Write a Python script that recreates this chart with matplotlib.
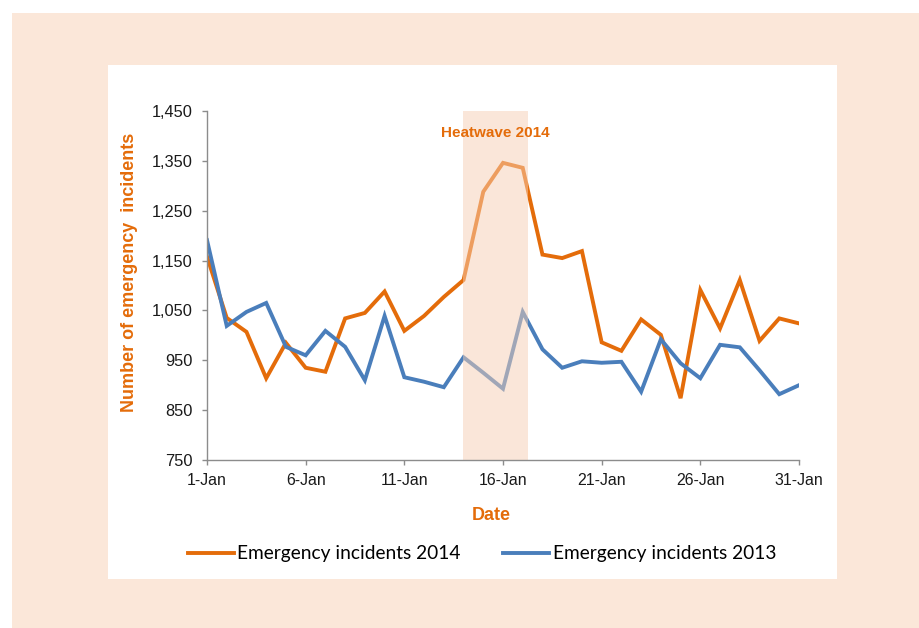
import matplotlib
matplotlib.use("Agg")
import matplotlib.pyplot as plt
from matplotlib.patches import Rectangle

# Daily emergency incidents, January
days = list(range(1, 32))
incidents_2014 = [1158, 1035, 1007, 914, 985, 935, 927, 1034, 1045, 1088,
                  1009, 1039, 1077, 1111, 1288, 1346, 1336, 1162, 1155, 1169,
                  986, 969, 1032, 1001, 874, 1091, 1014, 1111, 989, 1034, 1024]
incidents_2013 = [1191, 1019, 1047, 1065, 977, 960, 1009, 977, 910, 1039,
                  916, 907, 896, 956, 925, 893, 1047, 972, 935, 948,
                  945, 947, 887, 992, 944, 914, 981, 976, 930, 882, 900]
tick_days = [1, 6, 11, 16, 21, 26, 31]
tick_labels = ["1-Jan", "6-Jan", "11-Jan", "16-Jan", "21-Jan", "26-Jan", "31-Jan"]
y_ticks = [750, 850, 950, 1050, 1150, 1250, 1350, 1450]
heatwave_start, heatwave_end = 14, 17.25

ORANGE = "#E46C0A"
BLUE = "#4A7EBB"
PEACH = "#FBE7D9"
BAND = (247/255, 207/255, 180/255)

W, H = 919, 628
fig = plt.figure(figsize=(W/100, H/100), dpi=100)
fig.patch.set_facecolor("white")

# Framed background: peach border with white chart panel
fig.patches.append(Rectangle((12/W, 0), 1 - 12/W, 1 - 13/H, transform=fig.transFigure,
                             facecolor=PEACH, edgecolor="none", zorder=-10))
fig.patches.append(Rectangle((108/W, 1 - 579/H), (837-108)/W, (579-65)/H,
                             transform=fig.transFigure, facecolor="white",
                             edgecolor="none", zorder=-9))

ax = fig.add_axes([207/W, 1 - 460/H, (799-207)/W, (460-111)/H])
ax.set_facecolor("none")

l14, = ax.plot(days, incidents_2014, color=ORANGE, lw=2.8, solid_joinstyle="miter",
               label="Emergency incidents 2014", zorder=3)
l13, = ax.plot(days, incidents_2013, color=BLUE, lw=2.8, solid_joinstyle="miter",
               label="Emergency incidents 2013", zorder=3)

# Translucent heatwave band laid over the lines
ax.axvspan(heatwave_start - 0.03, heatwave_end, color=BAND, alpha=0.5, lw=0, zorder=4)
ax.text(15.6, 1405, "Heatwave 2014", color=ORANGE, fontsize=11, fontweight="bold",
        family="Liberation Sans", ha="center", va="center", zorder=5)

ax.set_xlim(1, 31)
ax.set_ylim(750, 1450)
ax.set_xticks(tick_days)
ax.set_xticklabels(tick_labels)
ax.set_yticks(y_ticks)
ax.set_yticklabels([f"{v:,}" for v in y_ticks])

for s in ["top", "right"]:
    ax.spines[s].set_visible(False)
for s in ["left", "bottom"]:
    ax.spines[s].set_color("#8C8C8C")
    ax.spines[s].set_linewidth(1.0)
    ax.spines[s].set_zorder(6)

ax.tick_params(axis="both", colors="#8C8C8C", length=3.6, width=1, labelcolor="#1A1A1A")
ax.tick_params(axis="y", pad=7, labelsize=11.8)
ax.tick_params(axis="x", pad=6, labelsize=11.4)
for lab in ax.get_xticklabels() + ax.get_yticklabels():
    lab.set_family("Liberation Sans")

fig.text(491/W, 1 - 515/H, "Date", color=ORANGE, fontsize=13, fontweight="bold",
         family="Liberation Sans", ha="center", va="center")
fig.text(130/W, 1 - 272/H, "Number of emergency  incidents", color=ORANGE, fontsize=13,
         fontweight="bold", family="Liberation Sans", rotation=90,
         ha="center", va="center")

fig.legend(handles=[l14, l13], loc="center", bbox_to_anchor=(482/W, 1 - 554/H),
           ncol=2, frameon=False, prop={"family": "Lato", "size": 13.8},
           handlelength=2.4, handletextpad=0.2, columnspacing=2.2)

fig.savefig("out.png", dpi=100)
